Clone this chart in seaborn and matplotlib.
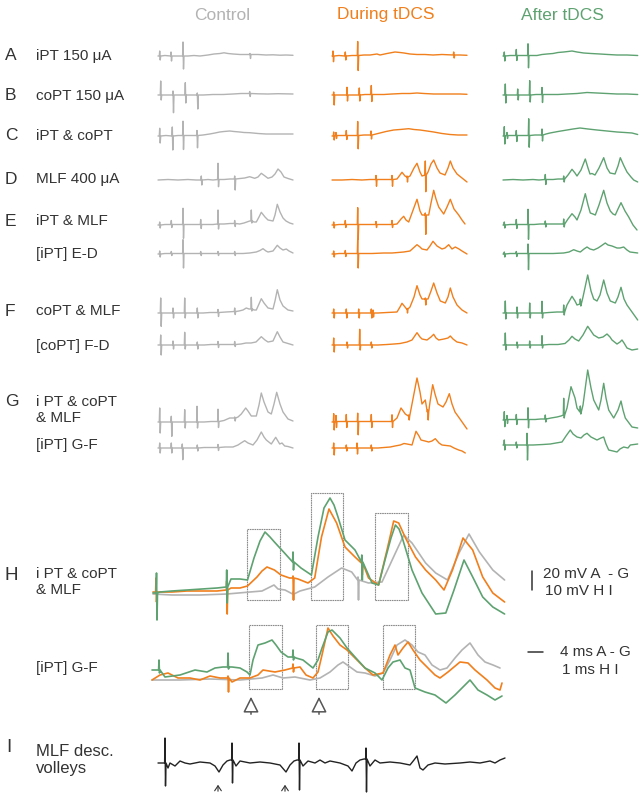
import matplotlib
matplotlib.use("Agg")
import matplotlib.pyplot as plt
import seaborn as sns
import pandas as pd
from matplotlib.patches import Rectangle

# ---------------- data (traces: time in samples, amplitude in display units) -------------
# knot = (t, v) ; stimulus artefact = (t, baseline, up, down)
A_ctrl = [(0,0),(1.7,0,5,-4),(7,0.5),(13,0,4,-5),(19,0),(25,0,14,-13),(30,0),(36,0.5),(42,0),(50,1),(56,2),(62,2.5),(66,3.2),(70,2.5),(75,2),(82,1.5),(92,1.5,1,-4),(100,1.5),(108,1),(115,1.2),(122,0.8),(128,1),(135,0.7)]
A_dur = [(0,0),(1,0,5,-5.7),(7,0.5),(13.3,0,4,-4),(20,0.5),(25.7,0.5,14,-15),(32,1),(38,1),(45,2),(48,1),(55,2.5),(63,4),(68,3.5),(72,3),(78,2),(85,1.5),(93,1.5),(101,1),(110,1.5),(121.7,1,3,-3),(128,1),(135,0.7)]
A_aft = [(0,0),(1.3,0,4,-5),(7,0.5),(13.3,0.5,6,-5),(19,0.5),(25,0.5,11.7,-12.3),(30,0.5),(34,0.5),(39,1.5),(44,2),(50,2.5),(55,3.5),(60.7,4),(65,4.5),(69,5),(74,4),(80.7,3),(88,2.5),(97,2),(105,1.5),(114,1),(124,1),(134.7,0.5)]
B_ctrl = [(0,0),(2.7,0,14,-5),(9,0),(15,0,4,-17.7),(21,0),(27.3,0,12.3,-8),(33,0),(39.3,0,2,-14),(45,0),(55,0.5),(65,0.5),(75,1),(83,1.5),(91.7,1.5,2,-3),(100,1.2),(110,1),(120,1.3),(135,1)]
B_dur = [(0,0),(1.7,0,3,-10),(8,0),(15,0,7.7,-6),(21,0),(27.3,0,7,-6),(33,0.5),(39.3,0.5,9,-7),(45,0.5),(51.7,0.5),(60,1),(70,1.5),(78,1.5),(85,2),(92,1.5),(101.7,1),(110,1),(120,1),(128,1),(135,0.7)]
B_aft = [(0,0),(2.3,0,11,-8),(8,0),(14.7,0,6,-5),(20,0),(26.7,0,14.3,-7),(33,0.5),(39,0.5,7,-8),(45,0.5),(55,0.5),(64,1),(74,1.5),(84,2.5),(94,2),(104,1.5),(114,1),(124,1),(134.7,0.5)]
C_ctrl = [(0,0),(1.7,0,7.7,-7),(8,0.5),(14.3,0,9,-14),(20,0.5),(25,0.5,14.3,-14),(32,0.5),(39,0.5,5,-12.3),(45,1),(51.7,2),(57,3),(61.7,4),(66,4.5),(71.7,5),(76,4.5),(81.7,4),(86,3.5),(91.7,3.3),(100,2.5),(108,2),(118,2),(126,2),(135,2)]
C_dur = [(0,0),(1.7,0,4,-4),(4,0.5,3,-3),(8,0.5),(14.3,0.5,5,-4),(20,0.5),(25.7,0.5,14,-13.3),(32,1),(39,1,4,-4),(44,2),(48,3),(54,4.5),(61.7,6),(68,6.5),(76.7,7.3),(82,6.5),(88,6),(95,5),(101.7,4),(110,2.5),(118,1.5),(126,1),(135,1)]
C_aft = [(0,0),(1.3,0,9.3,-8),(4,0.5,3,-3),(8,0.5),(13.3,0.5,5,-6),(20,0.5),(25.7,0.5,16.7,-11.7),(32,1),(39,1,6,-6),(43,2),(47,3),(55,4.5),(64,6),(70,7),(77,8),(85,7),(94,6),(104,5),(114,4),(122,3.5),(129,3),(134.7,1.5)]
D_ctrl = [(0,0),(10,0.5),(20,0),(30,0.5),(38,0),(43.3,0,4,-5),(50,0.5),(55,0),(60,0.5,16.2,-7.2),(66,0.5),(72,1),(76.7,1,3,-11),(82,1.5),(86.7,2),(91.7,3.3),(96.7,1.7),(100,3),(103.3,6.7),(107,4),(110,1.7),(114,3),(117,6),(120,11),(123,8),(126,3),(130,1.5),(135,0)]
D_dur = [(0,0),(10,0),(20,0.5),(30,0),(38,0.5),(44,0.5,4,-6.7),(52,0.5),(60,0.5,4,-6.7),(65,1),(70,7.7),(73,4),(75,3,1,-5),(78,4),(82,12),(85,16.7),(88,8),(90,4),(93.3,5,14,-16.7),(96,8),(99,16),(101.7,20),(105,12),(108,7),(113,5),(116,12),(118.3,19),(121,12),(125,6),(130,2),(135,-2)]
D_aft = [(0,0),(10,0.5),(20,0),(30,0.5),(36,0),(42.3,0.5,5,-5),(50,0.5),(55,1),(60.7,1,3,-3),(65,5),(69,10.7),(72,7),(74,4),(78,10),(82.3,21),(85,12),(87,6),(89,6.5),(92,5),(96,12),(100.7,22.3),(104,12),(107,7),(112,6),(115,14),(117.3,22.3),(121,14),(124,8),(128,3),(130.7,0),(134.7,-2)]
E_ctrl = [(0,0),(1.7,0,3,-3),(7,0.5),(13.3,0.5,4,-3),(19,0.5),(25,0.5,16.2,-13.8),(31,0.5),(37,0.5),(42.7,0.5,5,-4),(50,0.5),(55,0.5),(60,1,14,-5),(66,1),(72,1.5),(76.7,1.5,3,-3),(81.7,1),(86,2),(91.7,4),(93.3,4,11,-2),(96,3),(98.3,3),(101,8),(103.3,12.7),(107,8),(110,5),(115,4),(117,10),(119.3,20.7),(122,13),(125,7),(128,4),(131.7,2),(135,1)]
E_dur = [(0,0),(1.7,0,3,-3),(7,0.5),(13.3,0.5,4,-3),(19,0.5),(25.7,0.5,16.8,-14.8),(32,0.5),(38,0.5),(44,0.5,3,-3),(52,0.5),(60,0.5,4,-3),(65,1),(69,6),(71.7,8.7),(74,5),(76.7,3),(80,12),(85,25.7),(88,14),(90,10),(93.3,10,2,-19.3),(96.7,10),(99,22),(101.7,34.7),(104,26),(106.7,18),(111.7,11),(115,18),(118.3,25.7),(122,16),(126.7,10),(130,5),(133,1)]
E_aft = [(0,0),(1.3,0,3,-3),(7,0.5),(13.3,0.5,5,-4),(19,0.5),(25,0.5,15.2,-14.8),(31,0.5),(37,1),(42.3,1,3,-3),(50,1),(55,1),(60.7,1,5,-3),(65,6),(69,11.3),(72,8),(74,5),(78,15),(82.3,31.3),(85,20),(87.3,12),(90,11),(92.3,10),(96,20),(100.7,34.7),(104,22),(107.3,14),(110,11),(112.3,10),(115,16),(118,22.3),(122,14),(125.7,8),(130,0),(134,-5)]
ED_ctrl = [(0,0),(1.7,0,3,-3),(7,0.5),(13.3,0.5,2,-2),(19,0.5),(25,0.5,13.8,-14.5),(31,0.5),(37,0.5),(42.7,0.5,2,-2),(50,0.5),(60,0.5,2,-2),(68,0.5),(76.7,0.5,2,-2),(85,0.5),(91.7,1),(98.3,2),(102,3.5),(105,5.3),(108,3),(110,2),(115,3),(119.3,8.7),(122,6),(125,4),(128.3,5),(131,3),(135,1)]
ED_dur = [(0,0),(1.7,0,3,-3),(7,0.5),(13.3,0.5,3,-3),(19,0.5),(25.7,0.5,13.8,-14.5),(32,0.5),(40,0.5),(51.7,1),(60,1),(66,1.5),(71.7,2),(78,3),(85,9.3),(88,7),(90,5),(95,4),(98,8),(101,12.7),(105,8),(110,5),(113,6),(116.7,9.3),(120,5),(123.3,7),(127,5),(130,3),(135,0)]
ED_aft = [(0,0),(1.3,0,2,-3),(7,0.5),(13.3,0.5,2,-3),(19,0.5),(25,0.5,9.5,-16.2),(31,0.5),(40,0.5),(50,0.5),(60.7,1),(66,2),(70.7,4.3),(74,3),(77.3,2),(81,5),(84,7),(87,5),(90.7,4),(95,6),(98,8),(102.3,11),(105,9),(109,8),(114,6),(117,6),(120.7,7),(124,4),(127,2),(134.7,1)]
F_ctrl = [(0,0),(2.7,0,15,-13.3),(9,0),(15,0,5,-5),(21,0),(26.7,0,15,-5),(33,0),(39.3,0,5,-5),(45,0),(52,0.5),(60,0.5,3,-4),(68,1),(76.7,1.5,3.5,-3),(81,2),(85,3),(88.3,5),(91,4),(93.3,4,11.7,-2),(96,3),(98.3,3),(101,9),(103.3,14.3),(106,10),(110,5),(115,4),(117,12),(119.3,23.3),(122,13),(125,7),(130,3),(135,2)]
F_dur = [(0,0),(1.7,0,4,-5),(8,0),(14.3,0,4,-5),(20,0),(26.7,0,4,-5),(33,0),(39.3,0,4,-5),(41,0,3,-4),(46,0),(55,0.5),(65,1),(68,6),(70,9.7),(73,6),(75,4,0.5,-4),(78,6),(82,16),(85,27.3),(88,18),(90,14),(93.3,14,1,-6),(96,14),(99,22),(101.7,30),(105,20),(108.3,12),(113.3,10),(116,16),(118.3,25),(121,16),(125,8),(130,3),(135,0)]
F_aft = [(0,0),(2.3,0,12,-6),(8,0),(14,0,6,-5),(20,0),(26.7,0,10,-5),(33,0),(39,0,11.7,-5),(46,0.5),(54,1),(60.7,1,7,-3),(64,8),(69,16.7),(72,12),(74,8),(77.3,9,5,-2),(80,16),(84.7,38),(88,22),(90.7,14),(94,12),(97,18),(100.7,33),(104,20),(107.3,12),(112.3,10),(115,16),(118,25.7),(121,14),(124,8),(129,1),(134.7,-7)]
FD_ctrl = [(0,0),(2.7,0,10,-10),(9,0),(15,0,4,-4),(21,0),(26.7,0,12.7,-4),(33,0),(39.3,0,3,-4),(46,0),(53,0.5),(60,0.5,3,-3),(68,0.5),(76.7,0.5,3,-2),(83,1),(88,2),(93,2),(98,3),(103.3,8.3),(107,5),(110,3),(115,4),(119.3,13.3),(122,8),(125,3),(130,1.5),(135,0)]
FD_dur = [(0,0),(1.7,0,7,-7),(8,0),(15,0,3,-3),(21,0),(27.7,0,15.7,-5),(34,0),(39.3,0,3,-3),(46,0),(55,0.5),(62,1),(68,1.5),(75,3),(80,5),(85,12.3),(88,8),(90,6),(95,5),(99,8),(101.7,10.7),(104,7),(106.7,5),(112,6),(116,7),(118.3,9),(121,6),(125,3),(130,2),(135,0)]
FD_aft = [(0,0),(2.3,0,12,-5),(8,0),(14,0,3,-3),(20,0),(26.7,0,4,-3),(33,0),(39,0,9.3,-3),(46,0.5),(55,0.5),(62,1.5),(66,5),(69,8.7),(72,6),(75.7,4),(80,10),(84.7,18.7),(88,14),(90.7,10),(95.7,7),(100,8),(104,11),(107,8),(109,5),(114,1),(117,3),(119,5),(121,2),(124,-3),(129,-5),(134.7,-4)]
G_ctrl = [(0,0),(1.7,0,14,-11),(8,0),(13.3,0,5.7,-14.3),(20,0),(26.7,0,12.3,-6),(33,0),(39,0,15.7,-6),(46,0),(53,0.5),(60,0.5,12.3,-6),(66,1.5),(71.7,4),(76.7,4,1,-3),(80,5),(83.3,8),(87.7,14),(90,11),(93.3,6),(98.3,6),(101,17),(103.3,29),(106,20),(110,10),(113.3,8),(116,18),(118.7,29.7),(122,18),(125,10),(130,3),(135,1)]
G_dur = [(0,0),(1.7,0,8.3,-8),(4,0.5,6,-6),(8,0.5),(14.3,0.5,7,-6),(20,0.5),(25.7,0.5,8.3,-13.3),(32,0.5),(39.3,0.5,7,-6),(46,0.5),(53,0.5),(60,0.5,6.7,-6),(65,4),(69,14),(73.3,8),(76.7,6,1,-4),(80,18),(85,44),(88,30),(90,18),(93.3,22),(95.7,10,2,-8),(98,20),(100.7,37.3),(103,28),(106,18),(111,15),(114,20),(117.3,28.3),(120,18),(123,10),(128,3),(135,-7)]
G_aft = [(0,2),(1.3,2,8.3,-6.7),(4,2.5,4,-4),(8,2.5),(13.3,2.5,5,-5),(20,2.5),(25,2.5,11.7,-8.3),(32,2.5),(38,3),(42.3,3,4,-3),(48,4),(54,5),(58,6),(60.7,7,16.7,-3),(64,14),(68,35.3),(72,24),(74,14),(77.3,10,6,-2),(80,17),(84.7,52),(88,34),(90.7,22),(95.7,12),(98,22),(100.7,38.7),(103,24),(105.7,12),(110.7,4),(115,12),(118,21),(120,12),(122.3,4),(129,-5),(134.7,-6)]
GF_ctrl = [(0,0),(1.7,0,5,-5),(8,0),(13.3,0,5,-5),(19,0),(24.3,0,4,-11.7),(31,0),(39.3,0,3,-3),(46,0.5),(53,0.5),(60,0.5,3,-3),(67,1),(75,1),(80,3),(83,5),(86.7,7.3),(90,5),(95,3),(99,8),(103.3,16),(106,11),(108.3,8),(113.3,4),(117.7,10.7),(121.7,4),(124,5),(126.7,2),(130,1.5),(135,0)]
GF_dur = [(0,0),(1.7,0,5,-7),(8,0),(14.3,0,3,-3),(20,0),(25,0,5,-6),(32,0),(39.3,0,3,-3),(46,0),(52,0.5),(58.3,1),(63,2),(68.3,3),(72,4.5),(75,4),(80,3),(84,16.7),(87,12),(89,8),(93,7),(96.7,6),(100,7),(103.3,9.3),(107,5),(110,3),(118.3,2),(122,0),(126.7,-2),(130,-3),(133.3,-5)]
GF_aft = [(0,3),(1.3,3,5,-5),(8,3),(13.3,3,3,-3),(19,3),(24,3,11.7,-15),(30,3),(40,3.5),(47.3,4),(53,5),(59,6),(63,12),(67.3,18),(70,14),(74,11),(78,10),(81,13),(84,14.7),(88,11),(94,8),(98,10),(100.7,11),(103,4),(105.7,-2),(110,-3),(114,-4),(117,-1),(120.7,1),(125,0),(127.3,3),(134.7,4)]

# H : magnified G traces (upper) and [iPT] G-F (lower)
H_ctrl = [(1,-1),(20,-2),(48,-2),(75,-1),(98,1),(110,2),(122,8),(126,4),(133,3),(141,-1,2,-6),(148,2),(162.7,6),(176,16),(189.6,25),(199.7,21),(206,13,3,-20),(216.5,10),(230,11),(243.4,40),(251.8,58),(260,50),(273.6,30),(283.7,20),(295.5,13),(307,40),(317,59),(327.4,41),(340.8,23),(352.6,13)]
H_dur = [(1,1),(4,1,14,-10),(8,1),(20,1),(35,2),(50,2),(65,2),(74.7,3,9,-24),(79,5),(88,5),(95.5,7),(105,16),(110,22),(115,26),(122.4,23),(129,18),(137.5,15),(141,15,2,-22),(146,14),(156,10),(162.7,15),(169.5,56),(177,84),(184.6,70),(193,46),(203,36),(209.8,30,4,-12),(216.5,15),(226.6,8),(235,43),(241.7,72),(246.7,70),(253.5,55),(263.5,36),(273.6,23),(283.7,13),(292,3),(300.5,23),(311,55),(320.7,43),(330.7,16),(340.8,0),(352.6,-9)]
H_aft = [(1,0),(4.5,0,20,-27),(8,1),(20,2),(35,3),(50,4),(65,5),(74.7,6,17,-16),(79,14),(88,14),(95.5,13),(102,35),(108,52),(113,61),(118,56),(122.4,51),(132.5,40),(141,31,10,-8),(149,25),(159.4,18),(166,56),(172,85),(178,95),(182,88),(186,76),(193,53),(203,43),(209.8,31,7,-18),(220,10),(226.6,8),(233,33),(239,55),(243.4,68),(247,64),(250,56),(260,23),(270,0),(283.7,-21),(293.8,-20),(302,3),(312,33),(320.7,16),(330.7,-4),(340.8,-14),(352.6,-21)]
HGF_ctrl = [(0,-5),(28,-5),(58,-4),(88,-5),(110,-3),(121,0),(131,-3),(143,-2),(158,-5),(168,-3),(178,3),(186,10),(191,13),(198,8),(205,3),(213,2),(223,-1),(231,2),(238,15),(245,30),(253,35),(260,30),(266,23),(273,20),(280,10),(288,5),(295,7),(303,17),(310,25),(318,32),(326,20),(333,13),(341,10),(348,7)]
HGF_dur = [(0,-5),(8,0),(16,2),(26,-3),(38,-3),(48,-5),(58,-1),(68,-3),(76,-3,2,-14),(80,-7),(88,-3),(98,-3),(106,0),(111,5),(123,3),(133,5),(141,7,4,-4),(148,8),(154,0),(161,-3),(166,3),(170,20),(176,47),(181,39),(188,30),(195,25),(203,17),(213,7),(221,0),(231,2),(238,20),(243,30),(246,20),(251,27),(256,33),(261,25),(268,15),(276,7),(283,0),(288,-3),(296,3),(308,13),(316,12),(323,5),(335,-5),(343,-13),(348,-15),(350,-8)]
HGF_aft = [(0,5),(7,5,10,-3),(13,-2),(28,0),(43,5),(55,3),(63,7),(71,8),(76,8,14,-2),(80,8),(88,7),(95,3),(98,0),(101,15),(106,30),(113,32),(120,35),(124,30),(129,23),(136,18),(141,18,7,-3),(144,17),(151,15),(161,7),(166,15),(170,27),(176,43),(180,45),(188,37),(195,27),(203,18),(213,7),(223,2),(230,-5),(236,7),(241,13),(248,15),(253,7),(258,5),(263,-13),(273,-17),(283,-20),(294,-28),(303,-20),(310,-13),(318,-5),(326,-15),(335,-20),(343,-25),(350,-21)]
# windows marked in H (start, end, top) and volley arrows
H_win_upper = [(94.5,127.5,64),(158.7,191,100),(223,255.5,80)]
H_win_lower = [(97,129.7,50),(163.7,195.7,50),(231,263.3,50)]
H_arrow_t = [99, 167]
# I : MLF descending volleys
I_trace = [(0,0),(5,0),(7,0,25,-23),(10,-5),(12,0),(17,-3),(22,2),(27,0),(32,-1),(42,1),(52,0),(57,-3),(61,-9),(65,-2),(69,2),(72,3),(74,3,17,-23),(78,-3),(82,2),(92,0),(102,1),(112,0),(122,-2),(128,-9),(132,-2),(136,2),(139,3),(141,3,17,-30),(145,-3),(150,2),(157,0),(162,3),(167,0),(172,2),(182,0),(190,-3),(194,-8),(198,0),(202,3),(206,4),(208,4,11,-33),(212,-3),(217,3),(222,0),(232,1),(242,0),(252,-2),(256,3),(259,7),(262,-5),(265,-7),(270,-2),(277,0),(287,-1),(302,0),(312,1),(322,0),(332,2),(337,0),(342,3),(347,5)]
I_arrow_t = [60, 127]

conditions = ["Control", "During tDCS", "After tDCS"]
row_letters = ["A", "B", "C", "D", "E", "", "F", "", "G", ""]
row_texts = ["iPT 150 μA", "coPT 150 μA", "iPT & coPT", "MLF 400 μA", "iPT & MLF",
             "[iPT] E-D", "coPT & MLF", "[coPT] F-D", "i PT & coPT\n& MLF", "[iPT] G-F"]
rows = [(A_ctrl, A_dur, A_aft), (B_ctrl, B_dur, B_aft), (C_ctrl, C_dur, C_aft),
        (D_ctrl, D_dur, D_aft), (E_ctrl, E_dur, E_aft), (ED_ctrl, ED_dur, ED_aft),
        (F_ctrl, F_dur, F_aft), (FD_ctrl, FD_dur, FD_aft), (G_ctrl, G_dur, G_aft),
        (GF_ctrl, GF_dur, GF_aft)]

# ---------------- layout / style -------------
W, H = 644, 799
COLORS = ["#b3b3b3", "#f07f1c", "#5ea271"]
TXT = "#333333"
ROW_Y = [56, 95, 136, 180, 225, 254, 313, 345, 422, 448]
LABEL_Y = [56, 96, 136, 179, 221, 254, 311, 346, 410, 445]
COL_X = [158, 332, 503]

sns.set_theme(style="white")
plt.rcParams["font.family"] = ["Liberation Sans", "DejaVu Sans"]

fig = plt.figure(figsize=(W / 100, H / 100), dpi=100)
fig.patch.set_facecolor("white")


def px_axes(x0, y0, w, h):
    ax = fig.add_axes([x0 / W, 1 - (y0 + h) / H, w / W, h / H])
    ax.set_axis_off()
    return ax


def expand(knots):
    ts, vs = [], []
    for k in knots:
        if len(k) == 2:
            ts.append(k[0]); vs.append(k[1])
        else:
            t, b, up, dn = k
            ts += [t - 0.4, t, t + 0.5, t + 1.0]
            vs += [b, b + up, b + dn, b]
    return pd.DataFrame({"t": ts, "v": vs})


def draw(ax, knots, color, lw):
    df = expand(knots)
    sns.lineplot(data=df, x="t", y="v", ax=ax, color=color, linewidth=lw,
                 sort=False, estimator=None, clip_on=False)
    ax.set_axis_off()


# overlay for text and annotations (pixel coordinates)
ov = px_axes(0, 0, W, H)
ov.set_xlim(0, W); ov.set_ylim(H, 0)

# headers
for cx, name, col in zip([222, 386, 562], conditions, COLORS):
    ov.text(cx, 15, name, color=col, fontsize=12.5, ha="center", va="center")

# small traces
for r, traces in enumerate(rows):
    yb = ROW_Y[r]
    for c, tr in enumerate(traces):
        ax = px_axes(COL_X[c], yb - 60, 135, 90)
        ax.set_xlim(0, 135); ax.set_ylim(-30, 60)
        draw(ax, tr, COLORS[c], 1.0)
    if row_letters[r]:
        ov.text(5, LABEL_Y[r] if r != 8 else 402, row_letters[r], color=TXT,
                fontsize=12.5, ha="left", va="center")
    ov.text(36, LABEL_Y[r], row_texts[r], color=TXT, fontsize=11, ha="left",
            va="center", linespacing=1.15)

# H upper
axu = px_axes(152, 470, 360, 170)
axu.set_xlim(0, 360); axu.set_ylim(-47, 123)
for wnd in H_win_upper:
    axu.add_patch(Rectangle((wnd[0], -7), wnd[1] - wnd[0], wnd[2] + 7, fill=False,
                            ec="#8a8a8a", lw=0.8, ls=(0, (1.5, 0.6))))
for tr, col in zip([H_ctrl, H_dur, H_aft], COLORS):
    draw(axu, tr, col, 1.2)

# H lower
axl = px_axes(152, 605, 360, 120)
axl.set_xlim(0, 360); axl.set_ylim(-50, 70)
for wnd in H_win_lower:
    axl.add_patch(Rectangle((wnd[0], -14), wnd[1] - wnd[0], wnd[2] + 14, fill=False,
                            ec="#8a8a8a", lw=0.8, ls=(0, (1.5, 0.6))))
for tr, col in zip([HGF_ctrl, HGF_dur, HGF_aft], COLORS):
    draw(axl, tr, col, 1.2)
for t in H_arrow_t:
    axl.annotate("", xy=(t, -19), xytext=(t, -42),
                 arrowprops=dict(arrowstyle="-|>,head_length=0.8,head_width=0.4",
                                 fc="white", ec="#555555", lw=1.1))

ov.text(5, 575, "H", color=TXT, fontsize=13.5, ha="left", va="center")
ov.text(36, 582, "i PT & coPT\n& MLF", color=TXT, fontsize=11, ha="left",
        va="center", linespacing=1.15)
ov.text(36, 668, "[iPT] G-F", color=TXT, fontsize=11, ha="left", va="center")

# I trace
axi = px_axes(158, 720, 355, 79)
axi.set_xlim(0, 355); axi.set_ylim(-36, 43)
draw(axi, I_trace, "#222222", 1.0)
for t in I_arrow_t:
    axi.annotate("", xy=(t, -19), xytext=(t, -31),
                 arrowprops=dict(arrowstyle="->,head_length=0.3,head_width=0.2",
                                 color="#333333", lw=0.8))
ov.text(6, 748, "I", color=TXT, fontsize=13.5, ha="left", va="center")
ov.text(36, 760, "MLF desc.\nvolleys", color=TXT, fontsize=12, ha="left",
        va="center", linespacing=1.2)

# scale bars
ov.plot([532, 532], [571, 589.5], color="#333333", lw=1.1)
ov.plot([528, 543], [652, 652], color="#333333", lw=1.1)
ov.text(543, 574, "20 mV A  - G", color=TXT, fontsize=11, ha="left", va="center")
ov.text(545, 591, "10 mV H I", color=TXT, fontsize=11, ha="left", va="center")
ov.text(560, 652, "4 ms A - G", color=TXT, fontsize=11, ha="left", va="center")
ov.text(562, 670, "1 ms H I", color=TXT, fontsize=11, ha="left", va="center")

fig.savefig("out.png", dpi=100)
